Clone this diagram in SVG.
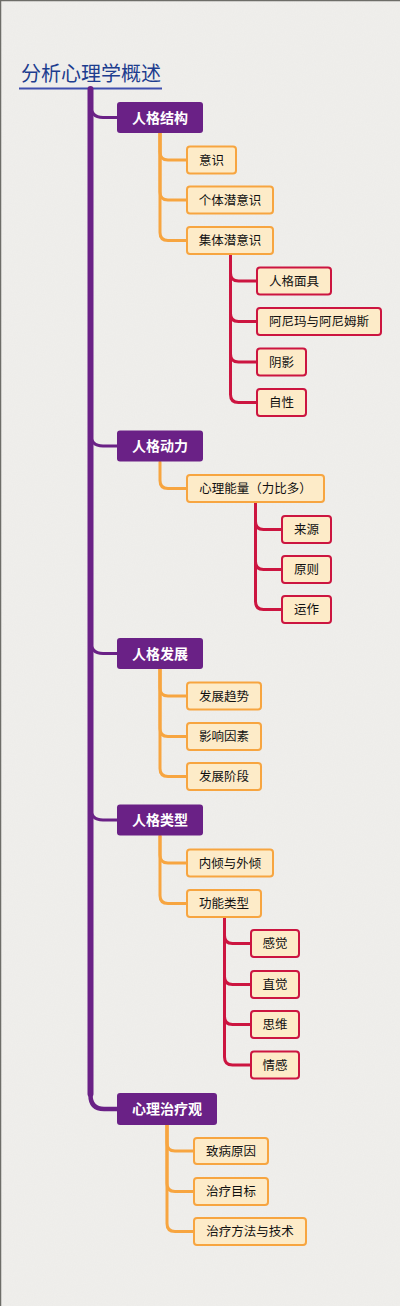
<svg xmlns="http://www.w3.org/2000/svg" width="400" height="1306" viewBox="0 0 400 1306">
<defs>
<filter id="paper" x="0" y="0" width="100%" height="100%">
<feTurbulence type="fractalNoise" baseFrequency="0.9" numOctaves="3" seed="4" result="n"/>
<feColorMatrix type="matrix" values="0 0 0 0 0.55  0 0 0 0 0.55  0 0 0 0 0.55  0 0 0 0.08 0"/>
</filter>
</defs>
<style>
.bg{fill:#f0efec}
.main rect{fill:#6a2186;stroke:none}
.main text{fill:#ffffff;font-family:"Noto Sans CJK SC","Noto Sans",sans-serif;font-size:14px;font-weight:bold;text-anchor:middle}
.sub rect{fill:#fdebc8;stroke:#f7a540;stroke-width:2}
.leaf rect{fill:#fdebc8;stroke:#cc1540;stroke-width:2}
.sub text,.leaf text{fill:#111111;font-family:"Noto Sans CJK SC","Noto Sans",sans-serif;font-size:12.5px;text-anchor:middle}
.tp{fill:none;stroke:#6a2186;stroke-linecap:round}
.to{fill:none;stroke:#f7a540;stroke-width:3;stroke-linecap:round}
.tc{fill:none;stroke:#cc1540;stroke-width:3;stroke-linecap:round}
</style>
<rect class="bg" x="0" y="0" width="400" height="1306"/>
<rect x="0" y="0" width="400" height="1306" filter="url(#paper)"/>
<path d="M0.5 1306 V0.5 H400" fill="none" stroke="#6d6d68" stroke-width="1.5"/>

<g id="title">
<text x="21" y="81" font-family="'Noto Sans CJK SC','Noto Sans',sans-serif" font-size="20" fill="#1d3d8f">分析心理学概述</text>
<line x1="19" y1="88.5" x2="162" y2="88.5" stroke="#3f4fae" stroke-width="2"/>
</g>

<g id="connectors">
<path class="tp" stroke-width="6" d="M90.5 89 V1094"/>
<path class="tp" stroke-width="3" d="M90.5 104 Q90.5 117.5 103 117.5 H117"/>
<path class="tp" stroke-width="3" d="M90.5 433 Q90.5 446 103 446 H117"/>
<path class="tp" stroke-width="3" d="M90.5 640 Q90.5 653.5 103 653.5 H117"/>
<path class="tp" stroke-width="3" d="M90.5 807 Q90.5 820 103 820 H117"/>
<path class="tp" stroke-width="4.5" d="M90.5 1090 V1095 Q90.5 1109 104 1109 H117"/>

<path class="to" d="M160 133 V152 Q160 160 168 160 H187"/>
<path class="to" d="M160 133 V192 Q160 200 168 200 H187"/>
<path class="to" d="M160 133 V232.5 Q160 240.5 168 240.5 H187"/>

<path class="tc" d="M230.5 254 V273 Q230.5 281 238.5 281 H257"/>
<path class="tc" d="M230.5 254 V313.5 Q230.5 321.5 238.5 321.5 H257"/>
<path class="tc" d="M230.5 254 V354 Q230.5 362 238.5 362 H257"/>
<path class="tc" d="M230.5 254 V394.5 Q230.5 402.5 238.5 402.5 H257"/>

<path class="to" d="M160 462 V480.5 Q160 488.5 168 488.5 H187"/>

<path class="tc" d="M255.5 502 V521.5 Q255.5 529.5 263.5 529.5 H282"/>
<path class="tc" d="M255.5 502 V561.5 Q255.5 569.5 263.5 569.5 H282"/>
<path class="tc" d="M255.5 502 V601.5 Q255.5 609.5 263.5 609.5 H282"/>

<path class="to" d="M160 669 V688 Q160 696 168 696 H187"/>
<path class="to" d="M160 669 V728.5 Q160 736.5 168 736.5 H187"/>
<path class="to" d="M160 669 V768.5 Q160 776.5 168 776.5 H187"/>

<path class="to" d="M160 836 V855 Q160 863 168 863 H187"/>
<path class="to" d="M160 836 V895.5 Q160 903.5 168 903.5 H187"/>

<path class="tc" d="M224.5 917 V935.5 Q224.5 943.5 232.5 943.5 H251"/>
<path class="tc" d="M224.5 917 V976.5 Q224.5 984.5 232.5 984.5 H251"/>
<path class="tc" d="M224.5 917 V1016.5 Q224.5 1024.5 232.5 1024.5 H251"/>
<path class="tc" d="M224.5 917 V1057 Q224.5 1065 232.5 1065 H251"/>

<path class="to" d="M167 1125 V1143 Q167 1151 175 1151 H194"/>
<path class="to" d="M167 1125 V1183.5 Q167 1191.5 175 1191.5 H194"/>
<path class="to" d="M167 1125 V1223.5 Q167 1231.5 175 1231.5 H194"/>
</g>

<g id="n-jiegou" class="main"><rect x="117" y="102" width="86" height="31" rx="3"/><text x="160" y="122.5">人格结构</text></g>
<g id="n-yishi" class="sub"><rect x="187" y="146.5" width="49" height="27" rx="3"/><text x="211.5" y="164.5">意识</text></g>
<g id="n-geti" class="sub"><rect x="187" y="186.5" width="86" height="27" rx="3"/><text x="230" y="204.5">个体潜意识</text></g>
<g id="n-jiti" class="sub"><rect x="187" y="227" width="86" height="27" rx="3"/><text x="230" y="245">集体潜意识</text></g>
<g id="n-mianju" class="leaf"><rect x="257" y="267.5" width="74" height="27" rx="3"/><text x="294" y="285.5">人格面具</text></g>
<g id="n-anima" class="leaf"><rect x="257" y="308" width="124" height="27" rx="3"/><text x="319" y="326">阿尼玛与阿尼姆斯</text></g>
<g id="n-yinying" class="leaf"><rect x="257" y="348.5" width="49" height="27" rx="3"/><text x="281.5" y="366.5">阴影</text></g>
<g id="n-zixing" class="leaf"><rect x="257" y="389" width="49" height="27" rx="3"/><text x="281.5" y="407">自性</text></g>

<g id="n-dongli" class="main"><rect x="117" y="430.5" width="86" height="31" rx="3"/><text x="160" y="451">人格动力</text></g>
<g id="n-nengliang" class="sub"><rect x="187" y="475" width="137" height="27" rx="3"/><text x="255.5" y="493">心理能量（力比多）</text></g>
<g id="n-laiyuan" class="leaf"><rect x="282" y="516" width="49" height="27" rx="3"/><text x="306.5" y="534">来源</text></g>
<g id="n-yuanze" class="leaf"><rect x="282" y="556" width="49" height="27" rx="3"/><text x="306.5" y="574">原则</text></g>
<g id="n-yunzuo" class="leaf"><rect x="282" y="596" width="49" height="27" rx="3"/><text x="306.5" y="614">运作</text></g>

<g id="n-fazhan" class="main"><rect x="117" y="638" width="86" height="31" rx="3"/><text x="160" y="658.5">人格发展</text></g>
<g id="n-qushi" class="sub"><rect x="187" y="682.5" width="74" height="27" rx="3"/><text x="224" y="700.5">发展趋势</text></g>
<g id="n-yinsu" class="sub"><rect x="187" y="723" width="74" height="27" rx="3"/><text x="224" y="741">影响因素</text></g>
<g id="n-jieduan" class="sub"><rect x="187" y="763" width="74" height="27" rx="3"/><text x="224" y="781">发展阶段</text></g>

<g id="n-leixing" class="main"><rect x="117" y="804.5" width="86" height="31" rx="3"/><text x="160" y="825">人格类型</text></g>
<g id="n-neiqing" class="sub"><rect x="187" y="849.5" width="86" height="27" rx="3"/><text x="230" y="867.5">内倾与外倾</text></g>
<g id="n-gongneng" class="sub"><rect x="187" y="890" width="74" height="27" rx="3"/><text x="224" y="908">功能类型</text></g>
<g id="n-ganjue" class="leaf"><rect x="251" y="930" width="48" height="27" rx="3"/><text x="275" y="948">感觉</text></g>
<g id="n-zhijue" class="leaf"><rect x="251" y="971" width="48" height="27" rx="3"/><text x="275" y="989">直觉</text></g>
<g id="n-siwei" class="leaf"><rect x="251" y="1011" width="48" height="27" rx="3"/><text x="275" y="1029">思维</text></g>
<g id="n-qinggan" class="leaf"><rect x="251" y="1051.5" width="48" height="27" rx="3"/><text x="275" y="1069.5">情感</text></g>

<g id="n-zhiliao" class="main"><rect x="117" y="1093" width="100" height="32" rx="3"/><text x="167" y="1114">心理治疗观</text></g>
<g id="n-bingyin" class="sub"><rect x="194" y="1138" width="74" height="26" rx="3"/><text x="231" y="1155.5">致病原因</text></g>
<g id="n-mubiao" class="sub"><rect x="194" y="1178" width="74" height="27" rx="3"/><text x="231" y="1196">治疗目标</text></g>
<g id="n-fangfa" class="sub"><rect x="194" y="1218" width="112" height="27" rx="3"/><text x="250" y="1236">治疗方法与技术</text></g>
</svg>
